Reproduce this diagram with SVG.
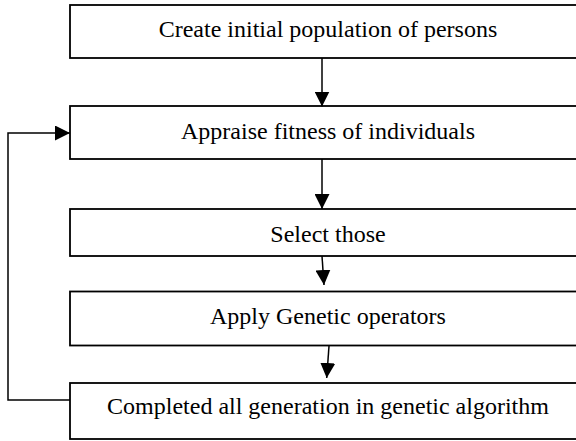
<svg xmlns="http://www.w3.org/2000/svg" width="576" height="441" viewBox="0 0 576 441">
<style>
.box{fill:#fff;stroke:#000;stroke-width:1.8}
.lbl{font-family:"Liberation Serif","Times New Roman",serif;font-size:24px;fill:#000;text-anchor:middle}
.con{fill:none;stroke:#000;stroke-width:1.5}
</style>
<defs>
<marker id="ah" markerWidth="15" markerHeight="15" refX="15" refY="7.5" viewBox="0 0 15 15" orient="auto" markerUnits="userSpaceOnUse">
<path d="M0,0 L15,7.5 L0,15 Z" fill="#000"/>
</marker>
</defs>
<g id="n1"><rect class="box" x="70" y="5" width="520" height="53"/><text class="lbl" x="328" y="37">Create initial population of persons</text></g>
<g id="n2"><rect class="box" x="70" y="106" width="520" height="53"/><text class="lbl" x="328" y="139">Appraise fitness of individuals</text></g>
<g id="n3"><rect class="box" x="70" y="209" width="520" height="47"/><text class="lbl" x="328" y="242">Select those</text></g>
<g id="n4"><rect class="box" x="70" y="291.5" width="520" height="54"/><text class="lbl" x="328" y="323.5">Apply Genetic operators</text></g>
<g id="n5"><rect class="box" x="70" y="383" width="520" height="56"/><text class="lbl" x="328" y="413.5">Completed all generation in genetic algorithm</text></g>
<g id="connectors">
<line class="con" x1="322" y1="58" x2="322" y2="106.5" marker-end="url(#ah)"/>
<line class="con" x1="322" y1="159" x2="322" y2="209" marker-end="url(#ah)"/>
<line class="con" x1="322" y1="256" x2="324" y2="285" marker-end="url(#ah)"/>
<line class="con" x1="329" y1="346" x2="326.7" y2="378" marker-end="url(#ah)"/>
<polyline class="con" points="70,400 8,400 8,133 70,133" marker-end="url(#ah)"/>
</g>
</svg>
